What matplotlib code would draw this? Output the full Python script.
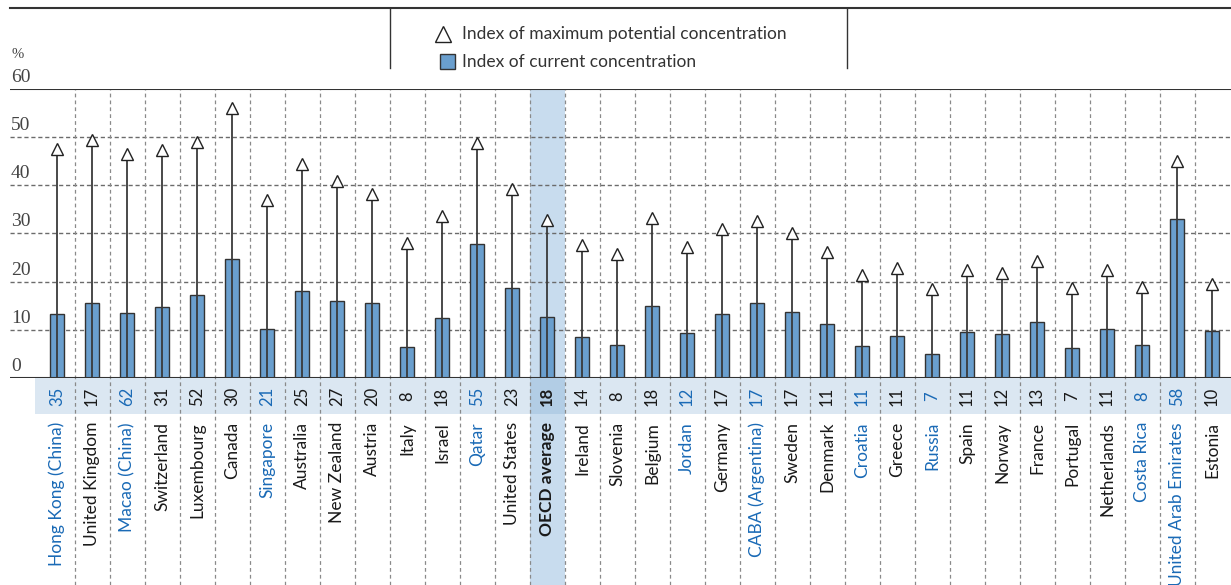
import matplotlib
matplotlib.use("Agg")
import matplotlib.pyplot as plt
from matplotlib.lines import Line2D
from matplotlib.patches import Rectangle

countries = ["Hong Kong (China)", "United Kingdom", "Macao (China)", "Switzerland", "Luxembourg",
             "Canada", "Singapore", "Australia", "New Zealand", "Austria", "Italy", "Israel",
             "Qatar", "United States", "OECD average", "Ireland", "Slovenia", "Belgium", "Jordan",
             "Germany", "CABA (Argentina)", "Sweden", "Denmark", "Croatia", "Greece", "Russia",
             "Spain", "Norway", "France", "Portugal", "Netherlands", "Costa Rica",
             "United Arab Emirates", "Estonia"]
current = [13.2, 15.6, 13.5, 14.8, 17.2, 24.8, 10.2, 18.0, 16.0, 15.6, 6.5, 12.4,
           27.8, 18.6, 12.7, 8.6, 6.9, 14.9, 9.4, 13.3, 15.6, 13.7, 11.2, 6.7,
           8.7, 5.0, 9.6, 9.2, 11.7, 6.3, 10.1, 6.9, 33.1, 9.8]
maximum = [47.6, 49.5, 46.6, 47.4, 49.0, 56.1, 36.9, 44.5, 40.8, 38.3, 28.0, 33.6,
           48.8, 39.3, 32.7, 27.6, 25.8, 33.3, 27.2, 31.0, 32.6, 30.0, 26.1, 21.3,
           22.9, 18.4, 22.5, 21.9, 24.3, 18.7, 22.5, 18.9, 45.1, 19.6]
ratio = [35, 17, 62, 31, 52, 30, 21, 25, 27, 20, 8, 18, 55, 23, 18, 14, 8, 18, 12, 17,
         17, 17, 11, 11, 11, 7, 11, 12, 13, 7, 11, 8, 58, 10]
partners = ["Hong Kong (China)", "Macao (China)", "Singapore", "Qatar", "Jordan",
            "CABA (Argentina)", "Croatia", "Russia", "Costa Rica", "United Arab Emirates"]
yticks = [0, 10, 20, 30, 40, 50, 60]

BAR = "#6a9fce"
BAND = "#dbe7f2"
OECD_COL = "#c8dcee"
OECD_CELL = "#b2cde5"
BLUE = "#1a6ab6"
DARK = "#333333"
GRID = "#6b6b6b"

plt.rcParams["font.family"] = ["Lato", "DejaVu Sans"]

W, H = 1231, 585
fig = plt.figure(figsize=(W / 100, H / 100), dpi=100)
x0, x1, ytop, ybase = 10, 1231, 89, 378
ax = fig.add_axes([x0 / W, (H - ybase) / H, (x1 - x0) / W, (ybase - ytop) / H])

step, c0 = 35.0, 57.0
ax.set_xlim((x0 - c0) / step, (x1 - c0) / step)
ax.set_ylim(0, 60)
for s in ax.spines.values():
    s.set_visible(False)
ax.set_xticks([])
ax.set_yticks([])

n = len(countries)
xs = list(range(n))
bottom = -(H - ybase) / (ybase - ytop)      # figure bottom in axes coords
band_low = -(414 - ybase) / (ybase - ytop)   # bottom of the number band
label_y = -(422 - ybase) / (ybase - ytop)
xt = ax.get_xaxis_transform()

# number band and OECD column highlight
band_left = (35 - c0) / step
ax.add_patch(Rectangle((band_left, band_low), ax.get_xlim()[1] - band_left, -band_low,
                       transform=xt, facecolor=BAND, edgecolor="none", clip_on=False, zorder=0))
io = countries.index("OECD average")
ax.add_patch(Rectangle((io - 0.5, bottom), 1, 1 - bottom, transform=xt,
                       facecolor=OECD_COL, edgecolor="none", clip_on=False, zorder=0))
ax.add_patch(Rectangle((io - 0.5, band_low), 1, -band_low, transform=xt,
                       facecolor=OECD_CELL, edgecolor="none", clip_on=False, zorder=0.5))

# grid
for v in yticks[1:-1]:
    ax.axhline(v, color=GRID, lw=1.0, ls=(0, (3, 2)), zorder=1)
for i in range(n - 1):
    ax.plot([i + 0.5, i + 0.5], [bottom, 1], transform=xt, color="#8a8a8a", lw=0.9,
            ls=(0, (3, 2.5)), clip_on=False, zorder=1)
ax.axhline(60, color=DARK, lw=1.5, zorder=3)
ax.axhline(0, color=DARK, lw=1.5, zorder=4)

# bars, stems, triangles
ax.bar(xs, current, width=0.4, color=BAR, edgecolor=DARK, linewidth=1.0, zorder=2)
ax.vlines(xs, 0, maximum, color="#3a3a3a", lw=1.3, zorder=3)
ax.plot(xs, maximum, ls="none", marker="^", markersize=9, markerfacecolor="white",
        markeredgecolor="#222222", markeredgewidth=1.0, zorder=5)

# y tick labels sit just above their gridlines
for v in yticks:
    py = ybase - v * (ybase - ytop) / 60
    fig.text(11 / W, (H - py + 3) / H, str(v), fontsize=14, family="Liberation Serif",
             color="#444444", ha="left", va="bottom")
fig.text(11 / W, (H - 55) / H, "%", fontsize=10.5, family="Liberation Serif", color="#444444",
         ha="left", va="center")

# numbers and country labels
for i, (name, r) in enumerate(zip(countries, ratio)):
    col = BLUE if name in partners else "#1a1a1a"
    weight = "bold" if name == "OECD average" else "normal"
    ax.text(i, band_low / 2, str(r), transform=xt, rotation=90, ha="center", va="center",
            fontsize=12, color=col, fontweight=weight, clip_on=False)
    ax.text(i, label_y, name, transform=xt, rotation=90, ha="center", va="top",
            fontsize=12.5, color=col, fontweight=weight, clip_on=False)

# top rule and legend
fig.add_artist(Line2D([x0 / W, 1], [(H - 8) / H] * 2, color=DARK, lw=1.5))
for px in (390, 847):
    fig.add_artist(Line2D([px / W] * 2, [(H - 8) / H, (H - 68) / H], color=DARK, lw=1.0))
fig.add_artist(Line2D([443 / W], [(H - 34) / H], marker="^", markersize=11, ls="none",
                      markerfacecolor="white", markeredgecolor="#222222", markeredgewidth=1.0))
fig.text(462 / W, (H - 34) / H, "Index of maximum potential concentration", fontsize=12.5,
         color="#333333", ha="left", va="center")
fig.add_artist(Rectangle((440 / W, (H - 69) / H), 15 / W, 15 / H, transform=fig.transFigure,
                         facecolor=BAR, edgecolor=DARK, lw=1.0))
fig.text(462 / W, (H - 62) / H, "Index of current concentration", fontsize=12.5,
         color="#333333", ha="left", va="center")

fig.savefig("out.png", dpi=100, facecolor="white")
